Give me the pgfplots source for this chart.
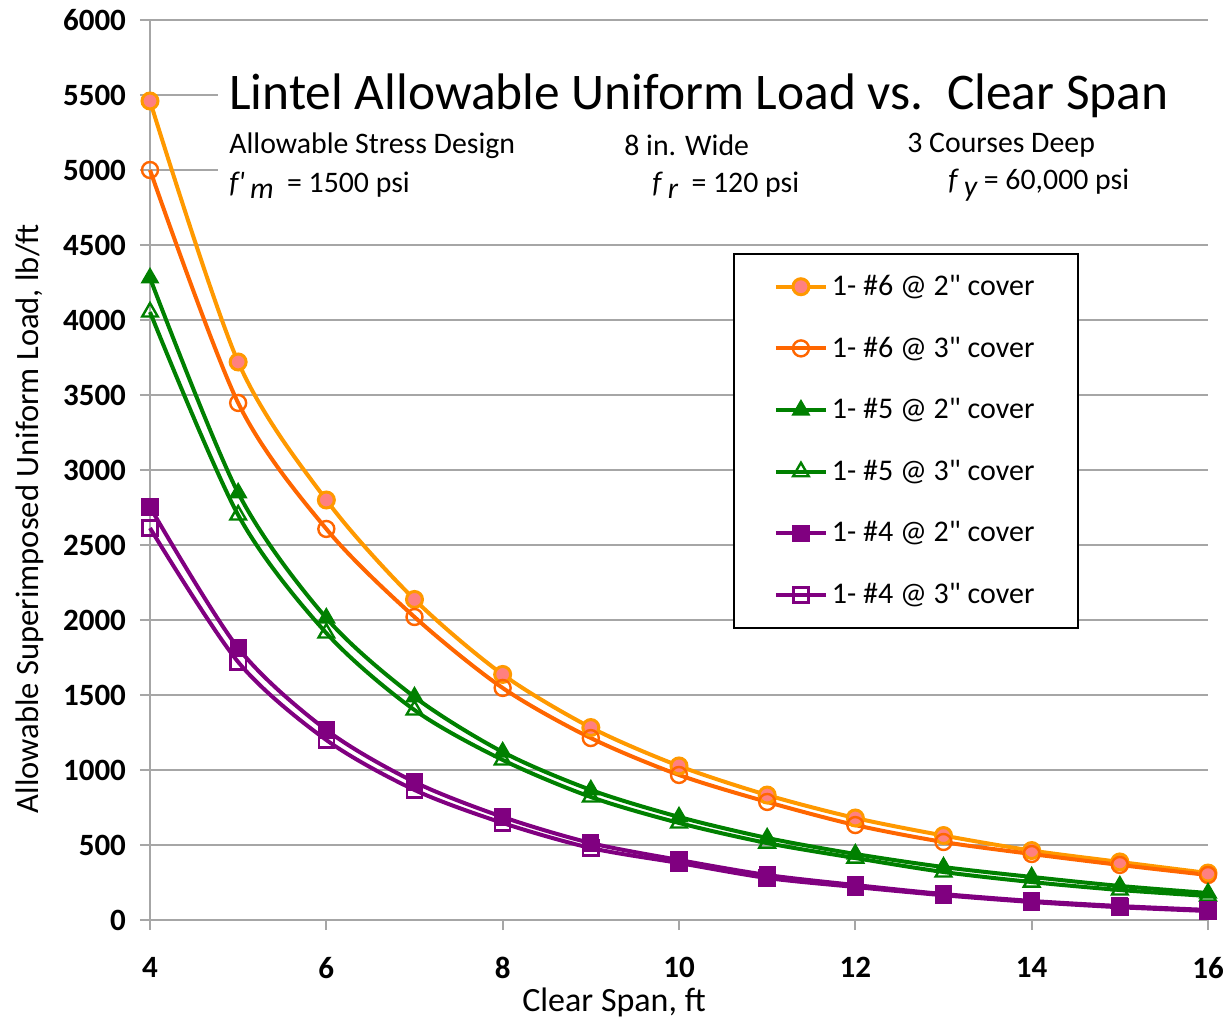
\documentclass[border=0pt]{standalone}
\usepackage{fontspec}
\setmainfont{Carlito}
\newfontfamily\rawfont{Carlito}
\usepackage{pgfplots}
\usepackage{pgfplotstable}
\pgfplotsset{compat=1.18}

\definecolor{orangeA}{HTML}{FF9900}
\definecolor{salmon}{HTML}{FF8080}
\definecolor{orangeB}{HTML}{FF6600}
\definecolor{greenC}{HTML}{008000}
\definecolor{purpleD}{HTML}{800080}
\definecolor{gridgray}{HTML}{A6A6A6}

% straight inch mark (no tex-text mapping)
\newcommand{\inch}{{\rawfont\symbol{34}}}

% span, then the six bar/cover cases (lb/ft)
\pgfplotstableread{
span sixtwo sixthree fivetwo fivethree fourtwo fourthree
4    5460   5000     4280    4053      2753    2613
5    3720   3447     2847    2700      1813    1720
6    2800   2607     2013    1913      1267    1200
7    2137   2020     1487    1400      920     867
8    1637   1547     1120    1067      687     647
9    1283   1213     867     820       513     480
10   1027   967      687     647       400     380
11   833    787      547     513       300     280
12   680    633      440     413       233     220
13   563    520      353     320       173     165
14   463    440      287     253       127     120
15   387    367      227     200       93      85
16   313    300      180     160       67      60
}\lintel

\begin{document}
\begin{tikzpicture}
\begin{axis}[
    scale only axis, width=529pt, height=450pt,
    xmin=4, xmax=16, ymin=0, ymax=6000,
    xtick={4,6,...,16}, ytick={0,500,...,6000},
    axis x line*=bottom, axis y line*=left,
    tick align=outside, major tick length=5pt,
    axis line style={gridgray, line width=0.9pt},
    tick style={gridgray, line width=0.9pt},
    ymajorgrids, grid style={gridgray, line width=0.75pt},
    clip=false,
    /pgf/number format/1000 sep={},
    /pgf/number format/assume math mode=true,
    ticklabel style={font=\bfseries\fontsize{15.5}{18}\selectfont},
    xticklabel style={yshift=-10pt},
    yticklabel style={xshift=-3.5pt},
    xlabel={Clear Span, ft},
    ylabel={Allowable Superimposed Uniform Load, lb/ft},
    xlabel style={font=\fontsize{17}{20}\selectfont, at={(axis description cs:0.4386,-0.0911)}, anchor=center},
    ylabel style={font=\fontsize{16.3}{19}\selectfont, at={(axis description cs:-0.1134,0.446)}, anchor=center},
    legend style={at={(axis description cs:0.551,0.741)}, anchor=north west,
        draw=black, line width=1pt, font=\fontsize{15}{18}\selectfont,
        row sep=15.2pt, inner xsep=20pt, inner ysep=8.5pt},
    legend cell align=left,
    legend image code/.code={\draw[mark repeat=2,mark phase=2]
        plot coordinates {(0pt,0pt) (12.5pt,0pt) (25pt,0pt)};},
    every axis plot/.append style={line width=2pt, smooth},
]
\fill[white] (axis cs:4.77,4700) rectangle (axis cs:16,5770);

\addplot[orangeA, mark=*, mark size=4pt, mark options={fill=salmon, draw=orangeA, line width=1.5pt}]
    table[x=span, y=sixtwo] {\lintel};
\addlegendentry{1- \#6 @ 2\inch{} cover}
\addplot[orangeB, mark=o, mark size=4pt, mark options={fill=white, line width=1.2pt}]
    table[x=span, y=sixthree] {\lintel};
\addlegendentry{1- \#6 @ 3\inch{} cover}
\addplot[greenC, mark=triangle*, mark size=4.5pt, mark options={line width=1pt}]
    table[x=span, y=fivetwo] {\lintel};
\addlegendentry{1- \#5 @ 2\inch{} cover}
\addplot[greenC, mark=triangle, mark size=4.5pt, mark options={fill=white, line width=1.2pt}]
    table[x=span, y=fivethree] {\lintel};
\addlegendentry{1- \#5 @ 3\inch{} cover}
\addplot[purpleD, mark=square*, mark size=3.8pt, mark options={line width=1pt}]
    table[x=span, y=fourtwo] {\lintel};
\addlegendentry{1- \#4 @ 2\inch{} cover}
\addplot[purpleD, mark=square, mark size=3.8pt, mark options={fill=white, line width=1.2pt}]
    table[x=span, y=fourthree] {\lintel};
\addlegendentry{1- \#4 @ 3\inch{} cover}

\node[anchor=west, font=\fontsize{25.7}{30}\selectfont, inner sep=0pt]
    at (axis cs:4.896,5495) {Lintel Allowable Uniform Load vs.\ \ Clear Span};
\begin{scope}[every node/.style={anchor=west, inner sep=0pt, font=\fontsize{14.9}{17}\selectfont}]
\node at (axis cs:4.896,5165) {Allowable Stress Design};
\node at (axis cs:9.376,5165) {8 in. Wide};
\node at (axis cs:12.586,5165) {3 Courses Deep};
\node at (axis cs:4.896,4900) {{\rawfont\itshape f'}\raisebox{-0.45ex}{\itshape\,m}\ \ = 1500 psi};
\node at (axis cs:9.693,4900) {\textit{f}\raisebox{-0.45ex}{\itshape\,r}\ \ = 120 psi};
\node at (axis cs:13.05,4900) {\textit{f}\raisebox{-0.45ex}{\itshape\,y}\ = 60,000 psi};
\end{scope}
\end{axis}
\pgfresetboundingbox
\path[use as bounding box] ([xshift=-75pt,yshift=-49.5pt]current axis.south west)
    rectangle ([xshift=10pt,yshift=10pt]current axis.north east);
\end{tikzpicture}
\end{document}
